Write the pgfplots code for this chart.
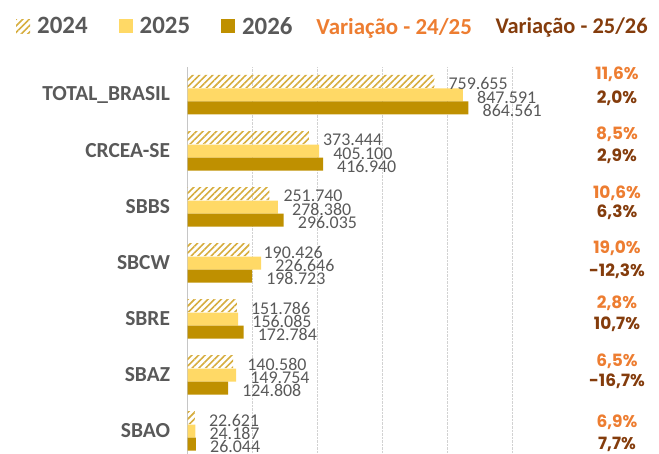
\documentclass[border=0pt]{standalone}
\usepackage{pgfplots}
\pgfplotsset{compat=1.18}
\usepackage{fontspec}
\setmainfont{Carlito}
\newfontfamily\pctfont{Poppins}
\usetikzlibrary{patterns.meta}
\definecolor{hatch}{HTML}{D6AD3E}
\definecolor{c25}{HTML}{FFD966}
\definecolor{c26}{HTML}{BF9000}
\definecolor{txt}{HTML}{595959}
\definecolor{org}{HTML}{ED7D31}
\definecolor{brn}{HTML}{843C0C}
\tikzset{po/.style={font=\pctfont\fontsize{17}{17}\selectfont\bfseries, text=org},
         pb/.style={font=\pctfont\fontsize{17}{17}\selectfont\bfseries, text=brn}}
\begin{document}
\begin{tikzpicture}
\begin{axis}[
  at={(187.5bp,0bp)}, anchor=south west,
  scale only axis, width=325bp, height=387bp,
  xmin=0, xmax=1000000, ymin=-6.41, ymax=0.5,
  xbar, bar width=13bp,
  axis line style={draw=none},
  major tick length=0pt,
  xtick={200000,400000,600000,800000,1000000},
  xticklabels={},
  xmajorgrids, major grid style={densely dotted, gray!35, line width=0.6pt},
  extra x ticks={0}, extra x tick labels={},
  extra x tick style={grid=major, major grid style={solid, gray!45, line width=0.8pt}},
  ytick={0,-1,-2,-3,-4,-5,-6},
  yticklabels={TOTAL\_BRASIL,CRCEA-SE,SBBS,SBCW,SBRE,SBAZ,SBAO},
  yticklabel style={font=\fontsize{21.5}{22}\selectfont\bfseries, text=txt, xshift=-14bp},
  clip=false,
  nodes near coords,
  nodes near coords style={anchor=west, inner sep=0pt, xshift=14bp, yshift=-2.5bp,
     font=\fontsize{18}{18}\selectfont, text=txt,
     /pgf/number format/.cd, fixed, precision=0, 1000 sep={.}, assume math mode=true},
  legend image code/.code={\draw[#1,draw=none] (0bp,-7bp) rectangle (14bp,7bp); \path (19bp,0bp);},
  legend columns=3,
  legend style={at={(-0.537,1.105)}, anchor=west, draw=none, fill=none,
     font=\fontsize{25}{25}\selectfont\bfseries, text=txt,
     /tikz/every even column/.append style={column sep=29bp}},
]
\addplot[bar shift=13.5bp, draw=none, pattern={Lines[angle=45,distance=4.7bp,line width=1.6bp]}, pattern color=hatch]
 coordinates {(759655,0) (373444,-1) (251740,-2) (190426,-3) (151786,-4) (140580,-5) (22621,-6)};
\addplot[bar shift=0bp, draw=none, fill=c25]
 coordinates {(847591,0) (405100,-1) (278380,-2) (226646,-3) (156085,-4) (149754,-5) (24187,-6)};
\addplot[bar shift=-13bp, draw=none, fill=c26]
 coordinates {(864561,0) (416940,-1) (296035,-2) (198723,-3) (172784,-4) (124808,-5) (26044,-6)};
\legend{2024,2025,2026}
\node[anchor=west, font=\fontsize{23}{23}\selectfont\bfseries, text=org] at (axis description cs:0.386,1.101) {Variação - 24/25};
\node[anchor=west, font=\fontsize{22.5}{23}\selectfont\bfseries, text=brn] at (axis description cs:0.937,1.101) {Variação - 25/26};
\node[po] at (axis cs:1321500,0.366) {11,6\%};
\node[po] at (axis cs:1321500,-0.696) {8,5\%};
\node[po] at (axis cs:1321500,-1.75) {10,6\%};
\node[po] at (axis cs:1321500,-2.732) {19,0\%};
\node[po] at (axis cs:1321500,-3.714) {2,8\%};
\node[po] at (axis cs:1321500,-4.75) {6,5\%};
\node[po] at (axis cs:1321500,-5.839) {6,9\%};
\node[pb] at (axis cs:1321500,-0.054) {2,0\%};
\node[pb] at (axis cs:1321500,-1.089) {2,9\%};
\node[pb] at (axis cs:1321500,-2.098) {6,3\%};
\node[pb] at (axis cs:1321500,-3.143) {-12,3\%};
\node[pb] at (axis cs:1321500,-4.089) {10,7\%};
\node[pb] at (axis cs:1321500,-5.107) {-16,7\%};
\node[pb] at (axis cs:1321500,-6.232) {7,7\%};
\end{axis}
\pgfresetboundingbox
\useasboundingbox (0,0) rectangle (659bp,454bp);
\end{tikzpicture}
\end{document}
